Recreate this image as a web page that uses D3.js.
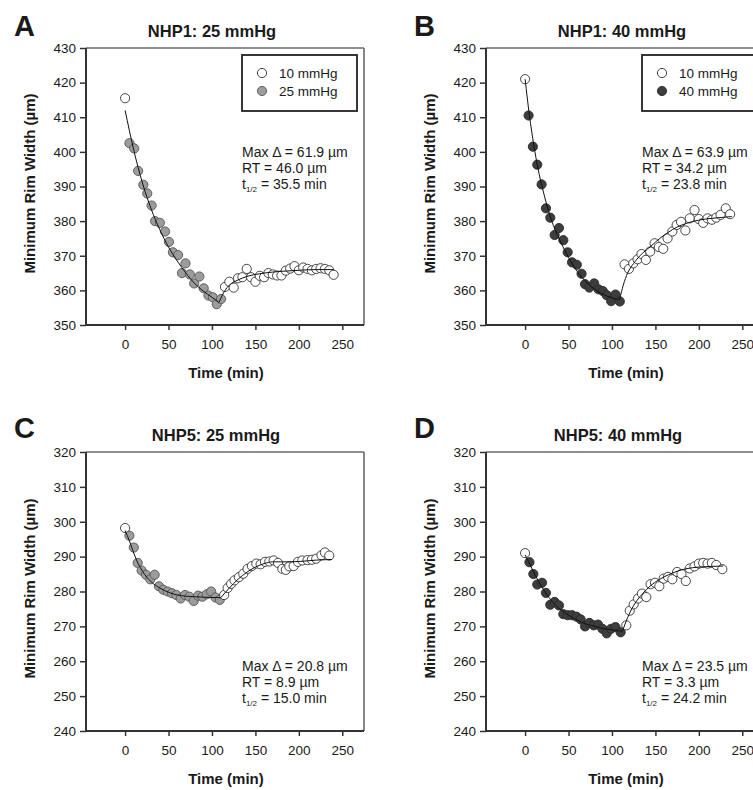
<!DOCTYPE html>
<html><head><meta charset="utf-8">
<script src="https://cdn.jsdelivr.net/npm/d3@7/dist/d3.min.js"></script>
<style>
body{margin:0;background:#fff}
svg{display:block}
text{font-family:"Liberation Sans",Arial,Helvetica,sans-serif;fill:#1a1a1a}
</style>
</head><body>
<svg id="chart" width="753" height="790"></svg>
<script>
// ---------- tick labels ----------
const timeTicks = [0, 50, 100, 150, 200, 250];
const nhp1Ticks = [350, 360, 370, 380, 390, 400, 410, 420, 430];
const nhp5Ticks = [240, 250, 260, 270, 280, 290, 300, 310, 320];
const xLabel = "Time (min)";
const yLabel = "Minimum Rim Width (µm)";

// ---------- panel text ----------
const panelLetters = ["A", "B", "C", "D"];
const panelTitles = ["NHP1: 25 mmHg", "NHP1: 40 mmHg", "NHP5: 25 mmHg", "NHP5: 40 mmHg"];
const legendBaseLabel = "10 mmHg";
const legendTreatLabels = ["25 mmHg", "40 mmHg"];
const statsMaxDelta = ["61.9", "63.9", "20.8", "23.5"];
const statsRT = ["46.0", "34.2", "8.9", "3.3"];
const statsHalf = ["35.5", "23.8", "15.0", "24.2"];

// ---------- Panel A: NHP1 25 mmHg ----------
const aBaseline = [[0, 415.5]];
const aTreat = [[5,402.5],[10.5,401],[15,394.5],[21,390.5],[25.5,388],[30.5,384.5],[34.5,380],[40,379.5],[46,377],[50.5,374],[55,371],[61,370.2],[65.5,365],[69.5,367.8],[74.5,364.6],[79.5,362],[85.5,364],[90.5,360.6],[96,358.5],[101,358],[105.5,356],[110.5,357.5]];
const aRecovery = [[115,361],[120,362.5],[125,360.8],[130,363.5],[135,363.8],[140,366.2],[145,363.8],[150,362.5],[155,364.2],[160,363.8],[165,365],[170,364.6],[175,364.3],[180,364.3],[185,365.7],[190,366.3],[195,367],[200,365.8],[205,366.6],[210,366.2],[215,365.8],[220,366.2],[225,366.4],[230,366.2],[235,365.8],[240,364.5]];
const aFitDecay = [[0,412],[10,400.5],[20,391],[30,383.5],[40,377.5],[50,372.5],[60,368.5],[70,365],[80,362],[90,359.8],[100,358],[108,356.5]];
const aFitRecovery = [[108,356.5],[115,360],[120,361.5],[130,363],[140,364],[150,364.6],[160,365],[180,365.5],[200,365.8],[220,366],[240,366]];

// ---------- Panel B: NHP1 40 mmHg ----------
const bBaseline = [[0, 421]];
const bTreat = [[4,410.5],[9,401.5],[14,396.3],[19,390.6],[24,383.7],[29,381],[34,376],[39,378],[44,374.5],[49,371],[54,368.1],[59.5,367.4],[65,364.8],[69,361.8],[74,360.8],[79.5,362],[84.5,360.3],[89.5,359.8],[94,358.6],[99,356.9],[104,358.8],[109,356.8]];
const bRecovery = [[114.5,367.5],[119.5,366.2],[124.5,367.8],[129.5,369],[134,370.5],[139,368.8],[144,371.2],[149,373.6],[154,372.5],[159,372],[164,375],[169.5,377],[174.5,378.9],[179.5,379.8],[184.5,377.3],[189.5,380.8],[195,383.2],[200,380.6],[205,379.5],[210,380.8],[215,380.4],[220,381],[225,381.8],[231,383.7],[236,382]];
const bFitDecay = [[0,421],[5,410.5],[10,402],[15,395],[20,389.5],[30,380.5],[40,374.5],[50,369.5],[60,365.5],[70,362.5],[80,360.3],[90,358.8],[100,357.8],[109,357.3]];
const bFitRecovery = [[109,357.5],[113,361.5],[118,365],[125,367.8],[135,370.7],[145,372.8],[155,375],[165,376.8],[175,378.3],[185,379.3],[200,380.3],[215,380.8],[238,381.3]];

// ---------- Panel C: NHP5 25 mmHg ----------
const cBaseline = [[0, 298.2]];
const cTreat = [[5,296],[10,292.6],[14.5,288.2],[19,286],[24,284.8],[29,283.5],[34,284.8],[39,281.5],[44,280.5],[49,280],[54,279.5],[59,279],[64,278],[69,279],[74,278.5],[79,277.3],[84,278.8],[89,278.5],[94,279.2],[99,280],[104,278.3],[109,277.6]];
const cRecovery = [[114,279],[118,281],[122,282.2],[126,283.2],[131,284.1],[136,285.1],[141,286.5],[146,287.3],[151,288],[156,287.8],[161,288.5],[166,288.6],[171,288.9],[176,288.2],[181,286.5],[185,286.2],[189,287.2],[194,287.3],[199,288.5],[204,288.9],[210,289],[215,289.1],[220,289.4],[226,290.4],[230,291.2],[235,290.3]];
const cFitDecay = [[0,297.5],[5,294.5],[10,291],[15,288],[20,285.8],[30,282.8],[40,281],[50,279.8],[60,279],[80,278.5],[100,278.3],[110,278.2]];
const cFitRecovery = [[110,278.2],[120,281],[130,283.5],[140,285.5],[150,287],[160,288],[170,288.5],[180,288.5],[190,288.5],[200,288.6],[220,289],[238,289.2]];

// ---------- Panel D: NHP5 40 mmHg ----------
const dBaseline = [[0, 291]];
const dTreat = [[5,288.4],[9.5,285],[14,282],[19.5,282.5],[24,279.6],[29,276.2],[34,277],[39,276],[44,273.5],[49,273.2],[54,273.2],[59,272.8],[64,272],[69,270],[74,271],[79,270.3],[84,270.5],[89,269.3],[94,268],[99,269.3],[104,269.8],[110,268.3]];
const dRecovery = [[116.5,270.3],[120.5,274.5],[125,276.3],[130,278],[134.5,279.4],[139.5,278.4],[144.5,282.1],[149.5,282.5],[154.5,281.5],[159.5,283.7],[164.5,284.2],[169.5,283.5],[175,285.6],[180,285],[185,283],[189.5,286.6],[195,287.2],[200,288],[205,288.2],[210,288],[215,288.2],[220,287.6],[227,286.4]];
const dFitDecay = [[0,290.5],[5,288],[10,285.5],[20,281],[30,277.5],[40,275],[50,273.2],[60,271.8],[70,270.7],[80,270],[90,269.4],[100,269],[112,268.6]];
const dFitRecovery = [[112,268.6],[118,272.5],[125,276],[135,279.3],[145,281.8],[155,283.5],[165,284.8],[175,285.8],[185,286.5],[200,287],[215,287.2],[228,287.3]];

// ---------- assemble ----------
const treatFills = ["#9c9c9c", "#3d3d3d", "#9c9c9c", "#3d3d3d"];
const panels = [
  {ox:0,   oy:0,   top:48,  h:277, yTicks:nhp1Ticks, base:aBaseline, treat:aTreat, rec:aRecovery, fits:[aFitDecay,aFitRecovery], legend:true,  titleX:212, statsY:157, letterY:36},
  {ox:400, oy:0,   top:48,  h:277, yTicks:nhp1Ticks, base:bBaseline, treat:bTreat, rec:bRecovery, fits:[bFitDecay,bFitRecovery], legend:true,  titleX:222, statsY:157, letterY:36},
  {ox:0,   oy:404, top:48,  h:279, yTicks:nhp5Ticks, base:cBaseline, treat:cTreat, rec:cRecovery, fits:[cFitDecay,cFitRecovery], legend:false, titleX:216, statsY:267, letterY:34},
  {ox:400, oy:404, top:48,  h:279, yTicks:nhp5Ticks, base:dBaseline, treat:dTreat, rec:dRecovery, fits:[dFitDecay,dFitRecovery], legend:false, titleX:218, statsY:267, letterY:34}
];

const svg = d3.select("#chart");
const left = 86, width = 278;

panels.forEach((p, i) => {
  const g = svg.append("g").attr("transform", `translate(${p.ox},${p.oy})`);
  const x = d3.scaleLinear().domain([-45, 275]).range([left, left + width]);
  const y = d3.scaleLinear().domain([p.yTicks[0], p.yTicks[p.yTicks.length-1]]).range([p.top + p.h, p.top]);

  // frame top/right
  g.append("line").attr("x1", left).attr("x2", left + width).attr("y1", p.top).attr("y2", p.top)
    .attr("stroke", "#6a6a6a").attr("stroke-width", 1.6);
  g.append("line").attr("x1", left + width).attr("x2", left + width).attr("y1", p.top).attr("y2", p.top + p.h)
    .attr("stroke", "#6a6a6a").attr("stroke-width", 1.6);

  // axes
  const ya = g.append("g").attr("transform", `translate(${left},0)`)
    .call(d3.axisLeft(y).tickValues(p.yTicks).tickSize(6).tickPadding(4).tickFormat(d3.format("d")));
  const xa = g.append("g").attr("transform", `translate(0,${p.top + p.h})`)
    .call(d3.axisBottom(x).tickValues(timeTicks).tickSize(5).tickPadding(9).tickFormat(d3.format("d")));
  [ya, xa].forEach(a => {
    a.select(".domain").attr("stroke", "#333").attr("stroke-width", 2);
    a.selectAll(".tick line").attr("stroke", "#333").attr("stroke-width", 1.5);
    a.selectAll(".tick text").attr("font-size", 13.5).attr("fill", "#222")
      .attr("font-family", '"Liberation Sans",Arial,sans-serif');
  });
  xa.select(".domain").attr("d", `M${left},0H${left + width}`);
  ya.select(".domain").attr("d", `M0,${p.top}V${p.top + p.h}`);

  // axis labels
  g.append("text").attr("x", left + width / 2 + 1).attr("y", p.top + p.h + 53)
    .attr("text-anchor", "middle").attr("font-size", 15).attr("font-weight", "bold").text(xLabel);
  g.append("text").attr("transform", `translate(35,${p.top + p.h / 2 - 3}) rotate(-90)`)
    .attr("text-anchor", "middle").attr("font-size", 15).attr("font-weight", "bold").text(yLabel);

  // title & letter
  g.append("text").attr("x", p.titleX).attr("y", 37).attr("text-anchor", "middle")
    .attr("font-size", 16.5).attr("font-weight", "bold").text(panelTitles[i]);
  g.append("text").attr("x", 14).attr("y", p.letterY).attr("font-size", 29).attr("font-weight", "bold")
    .attr("fill", "#111").text(panelLetters[i]);

  // markers
  const pts = g.append("g");
  const drawPts = (data, fill, stroke) => pts.selectAll(null).data(data).enter().append("circle")
    .attr("cx", d => x(d[0])).attr("cy", d => y(d[1])).attr("r", 4.6)
    .attr("fill", fill).attr("stroke", stroke).attr("stroke-width", 0.9);
  drawPts(p.base, "#fff", "#333");
  drawPts(p.treat, treatFills[i], i % 2 ? "#2a2a2a" : "#555");
  drawPts(p.rec, "#fff", "#333");

  // fit lines
  const line = d3.line().x(d => x(d[0])).y(d => y(d[1])).curve(d3.curveMonotoneX);
  p.fits.forEach(f => g.append("path").attr("d", line(f)).attr("fill", "none")
    .attr("stroke", "#111").attr("stroke-width", 1));

  // legend
  if (p.legend) {
    const lg = g.append("g");
    lg.append("rect").attr("x", 242).attr("y", 55).attr("width", 115).attr("height", 56)
      .attr("fill", "#fff").attr("stroke", "#222").attr("stroke-width", 1.8);
    const items = [[legendBaseLabel, "#fff", "#333"], [legendTreatLabels[i], treatFills[i], i % 2 ? "#2a2a2a" : "#555"]];
    items.forEach((it, k) => {
      lg.append("circle").attr("cx", 262).attr("cy", 73 + k * 18).attr("r", 4.6)
        .attr("fill", it[1]).attr("stroke", it[2]).attr("stroke-width", 0.9);
      lg.append("text").attr("x", 279).attr("y", 77.5 + k * 18).attr("font-size", 13.5).text(it[0]);
    });
  }

  // stats
  const st = g.append("g").attr("font-size", 14);
  st.append("text").attr("x", 242).attr("y", p.statsY).text(`Max Δ = ${statsMaxDelta[i]} µm`);
  st.append("text").attr("x", 242).attr("y", p.statsY + 16).text(`RT = ${statsRT[i]} µm`);
  const t3 = st.append("text").attr("x", 242).attr("y", p.statsY + 32);
  t3.append("tspan").text("t");
  t3.append("tspan").attr("font-size", 8).attr("dy", 3).text("1/2");
  t3.append("tspan").attr("dy", -3).text(` = ${statsHalf[i]} min`);
});
</script>
</body></html>
